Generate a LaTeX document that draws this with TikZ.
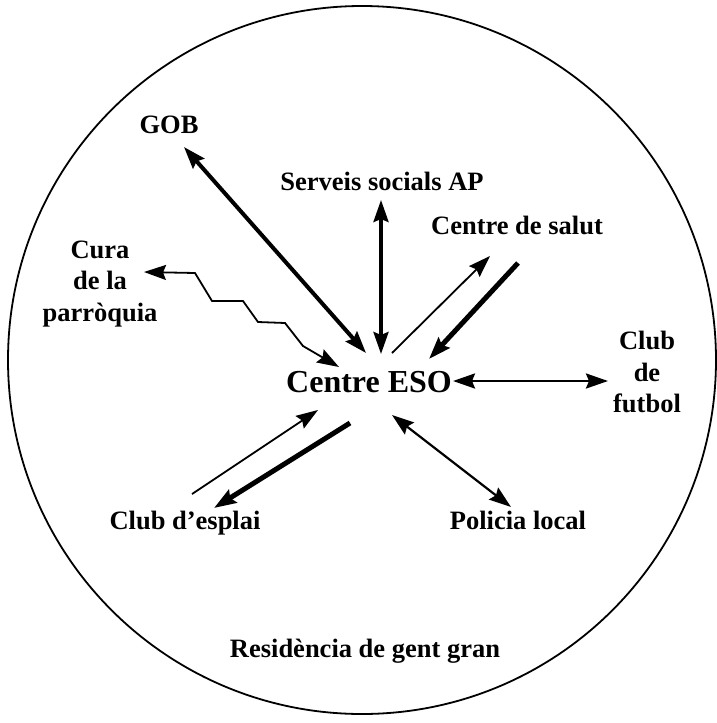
\documentclass[tikz,border=0pt]{standalone}
\usepackage{fontspec}
\setmainfont{Liberation Serif}
\usetikzlibrary{arrows.meta}
\begin{document}
\begin{tikzpicture}[x=1pt,y=-1pt,
  lbl/.style={font=\fontsize{26.5}{31.5}\selectfont\bfseries, inner sep=0pt, align=center},
  conn/.style={line width=#1, -{Stealth[length=22pt,width=15pt,inset=3pt]}},
  biconn/.style={line width=#1, {Stealth[length=22pt,width=15pt,inset=3pt]}-{Stealth[length=22pt,width=15pt,inset=3pt]}},
  ring/.style={line width=1.8pt}]
\useasboundingbox (0,0) rectangle (716,723);
\fill[white] (0,0) rectangle (716,723);
\node[ring, draw, circle, minimum size=708pt, inner sep=0pt] (world) at (362,360) {};

\node[lbl, anchor=base] (gob) at (169,133) {GOB};
\node[lbl, anchor=base] (ss) at (382,190) {Serveis socials AP};
\node[lbl, anchor=base] (salut) at (517,234) {Centre de salut};
\node[lbl] (cura) at (100,284) {Cura\\de la\\parròquia};
\node[lbl, font=\fontsize{32}{36}\selectfont\bfseries, anchor=base] (eso) at (369,392) {Centre ESO};
\node[lbl] (futbol) at (647,372) {Club\\de\\futbol};
\node[lbl, anchor=base] (esplai) at (185,529) {Club d’esplai};
\node[lbl, anchor=base] (policia) at (518,529) {Policia local};
\node[lbl, anchor=base] (resid) at (365,657) {Residència de gent gran};

% endpoints
\coordinate (gobA) at (184,147);
\coordinate (gobB) at (366,353);
\coordinate (ssA) at (381,200);
\coordinate (ssB) at (381,354);
\coordinate (salT1) at (392,353);
\coordinate (salT2) at (490,256);
\coordinate (salK1) at (518,263);
\coordinate (salK2) at (429,359);
\coordinate (fut1) at (453,381);
\coordinate (fut2) at (608,381);
\coordinate (espT1) at (192,494);
\coordinate (espT2) at (318,410);
\coordinate (espK1) at (350,423);
\coordinate (espK2) at (214,508);
\coordinate (pol1) at (392,415);
\coordinate (pol2) at (511,507);
\coordinate (curaA) at (144,272);
\coordinate (curaB) at (339,367);

\draw[biconn=4pt] (gobA) -- (gobB);
\draw[biconn=3.5pt] (ssA) -- (ssB);
\draw[conn=1.8pt] (salT1) -- (salT2);
\draw[conn=5pt] (salK1) -- (salK2);
\draw[biconn=2.6pt] (fut1) -- (fut2);
\draw[conn=1.8pt] (espT1) -- (espT2);
\draw[conn=5pt] (espK1) -- (espK2);
\draw[biconn=2.2pt] (pol1) -- (pol2);
\draw[biconn=1.8pt, line join=miter]
  (curaA) -- (195,273) -- (212,301) -- (243,301) -- (258,322) -- (285,323) -- (303,346) -- (curaB);
\end{tikzpicture}
\end{document}
